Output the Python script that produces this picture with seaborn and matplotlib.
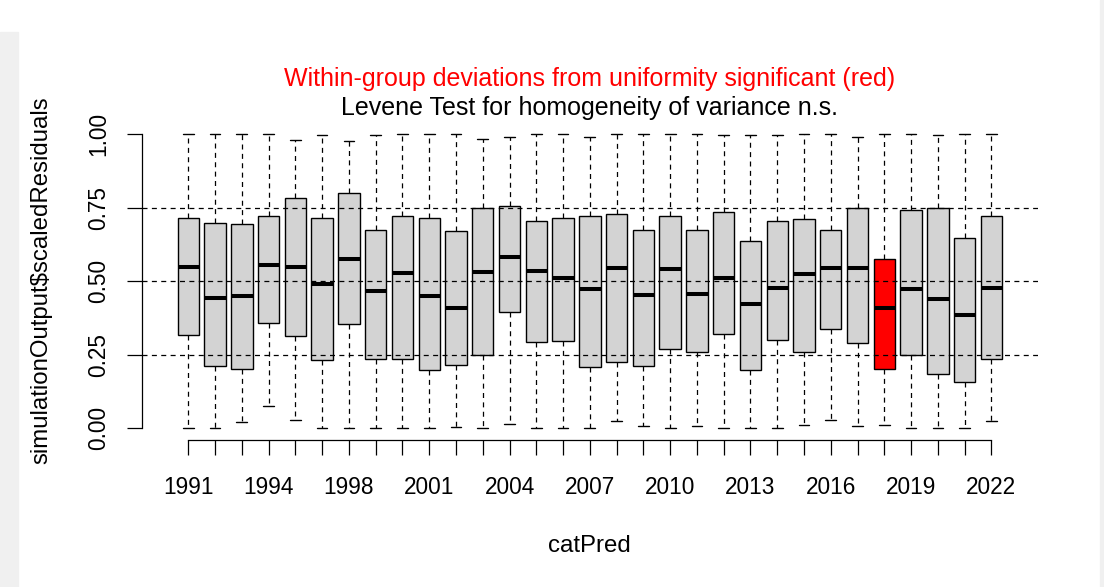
import matplotlib
matplotlib.use('Agg')
import matplotlib.pyplot as plt
from matplotlib.patches import Rectangle
import numpy as np
import pandas as pd
import seaborn as sns

# five-number summaries (per catPred level)
years = [1991, 1992, 1993, 1994, 1995, 1997, 1998, 1999, 2000, 2001, 2002,
         2003, 2004, 2005, 2006, 2007, 2008, 2009, 2010, 2011, 2012, 2013,
         2014, 2015, 2016, 2017, 2018, 2019, 2020, 2021, 2022]
whisk_lo = [0.00, 0.00, 0.02, 0.077, 0.027, 0.00, 0.00, 0.00, 0.00, 0.00, 0.004,
            0.00, 0.014, 0.00, 0.00, 0.00, 0.024, 0.007, 0.002, 0.007, 0.002, 0.002,
            0.002, 0.01, 0.027, 0.007, 0.01, 0.00, 0.002, 0.002, 0.024]
q1 = [0.318, 0.211, 0.201, 0.357, 0.314, 0.233, 0.354, 0.236, 0.236, 0.197, 0.216,
      0.250, 0.394, 0.293, 0.296, 0.208, 0.226, 0.211, 0.271, 0.261, 0.321, 0.198,
      0.299, 0.258, 0.336, 0.290, 0.201, 0.250, 0.183, 0.158, 0.236]
medians = [0.549, 0.443, 0.450, 0.556, 0.549, 0.491, 0.574, 0.468, 0.528, 0.450, 0.408,
           0.531, 0.581, 0.534, 0.510, 0.475, 0.546, 0.454, 0.542, 0.458, 0.511, 0.423,
           0.478, 0.524, 0.546, 0.546, 0.410, 0.475, 0.440, 0.386, 0.478]
q3 = [0.716, 0.699, 0.693, 0.720, 0.781, 0.713, 0.799, 0.675, 0.720, 0.713, 0.671,
      0.748, 0.756, 0.703, 0.713, 0.720, 0.727, 0.675, 0.720, 0.675, 0.734, 0.635,
      0.703, 0.710, 0.675, 0.748, 0.575, 0.741, 0.748, 0.646, 0.720]
whisk_hi = [1.00, 1.00, 1.00, 1.00, 0.979, 0.995, 0.975, 0.995, 1.00, 1.00, 1.00,
            0.982, 0.99, 1.00, 1.00, 0.99, 1.00, 1.00, 1.00, 1.00, 0.995, 0.995,
            0.995, 1.00, 1.00, 0.99, 1.00, 1.00, 0.995, 1.00, 1.00]
significant = [2018]
label_years = [1991, 1994, 1998, 2001, 2004, 2007, 2010, 2013, 2016, 2019, 2022]
y_ticks = [0.0, 0.25, 0.5, 0.75, 1.0]

rows = []
for i, yr in enumerate(years):
    for v in (whisk_lo[i], q1[i], medians[i], q3[i], whisk_hi[i]):
        rows.append({'catPred': str(yr), 'res': v})
df = pd.DataFrame(rows)
order = [str(y) for y in years]
palette = {str(y): ('#FF0000' if y in significant else '#D3D3D3') for y in years}

sns.set_style('white')
plt.rcParams['font.family'] = ['Liberation Sans', 'DejaVu Sans']
plt.rcParams.update({'text.color': 'black', 'axes.labelcolor': 'black',
                     'xtick.color': 'black', 'ytick.color': 'black'})
fs_tick = 16.3
fs_lab = 17.3
fs_title = 18

W, H = 1104, 587
fig = plt.figure(figsize=(W / 100, H / 100), dpi=100)
left, right, top, bottom = 141.7, 1038, 122.2, 440.1
ax = fig.add_axes([left / W, 1 - bottom / H, (right - left) / W, (bottom - top) / H])

# screenshot frame strips
fig.add_artist(Rectangle((0, 0), 18 / W, 1 - 32 / H, transform=fig.transFigure,
                         color='#F0F0F0', zorder=0))
fig.add_artist(Rectangle(((W - 4) / W, 0), 4 / W, 1, transform=fig.transFigure,
                         color='#F0F0F0', zorder=0))

dash = (0, (4, 3.5))
sns.boxplot(data=df, x='catPred', y='res', hue='catPred', order=order,
            hue_order=order, palette=palette, legend=False, saturation=1,
            width=0.8, whis=(0, 100), linecolor='black', linewidth=1.0,
            showfliers=False, ax=ax,
            whiskerprops={'linestyle': dash, 'linewidth': 0.9},
            capprops={'linewidth': 1.0},
            medianprops={'linewidth': 2.9, 'color': 'black'})

for yv in (0.25, 0.5, 0.75):
    ax.axhline(yv, color='black', lw=0.9, ls=dash, zorder=5)

n = len(years)
ax.set_xlim(-0.5 - 0.04 * n, n - 0.5 + 0.04 * n)
ax.set_ylim(-0.04, 1.04)

for s in ('top', 'right'):
    ax.spines[s].set_visible(False)
ax.spines['left'].set_bounds(0, 1)
ax.spines['bottom'].set_bounds(0, n - 1)
for s in ('left', 'bottom'):
    ax.spines[s].set_linewidth(0.9)
    ax.spines[s].set_color('black')

ax.set_xticks(range(n))
ax.set_xticklabels([str(y) if y in label_years else '' for y in years], fontsize=fs_tick)
ax.set_yticks(y_ticks)
ax.set_yticklabels([f'{v:.2f}' for v in y_ticks], fontsize=fs_tick, rotation=90, va='center')
ax.tick_params(axis='both', which='major', length=10.5, width=0.9, color='black',
               labelcolor='black', direction='out', bottom=True, left=True)
ax.tick_params(axis='x', pad=15.5)
ax.tick_params(axis='y', pad=12.5)

ax.set_xlabel('catPred', fontsize=fs_lab, color='black')
ax.set_ylabel('simulationOutput$scaledResiduals', fontsize=fs_lab, color='black',
              parse_math=False)
ax.xaxis.set_label_coords(0.5, (bottom - 546) / (bottom - top))
ax.xaxis.label.set_va('center')
ax.yaxis.set_label_coords((41 - left) / (right - left), (bottom - 280) / (bottom - top))
ax.yaxis.label.set_va('center')

cx = (left + right) / 2 / W
fig.text(cx, 1 - 79 / H, 'Within-group deviations from uniformity significant (red)',
         color='#FF0000', fontsize=fs_title, ha='center', va='center')
fig.text(cx, 1 - 108 / H, 'Levene Test for homogeneity of variance n.s.',
         color='black', fontsize=fs_title, ha='center', va='center')

fig.savefig('out.png', dpi=100)
